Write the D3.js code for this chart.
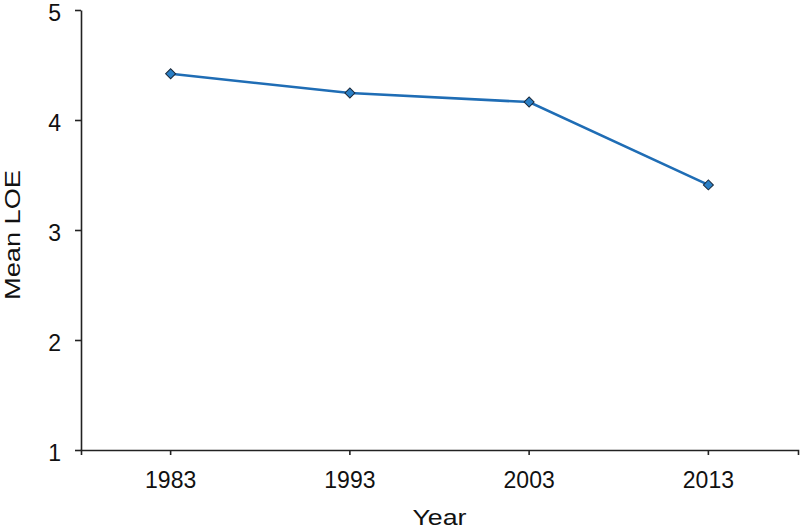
<!DOCTYPE html>
<html>
<head>
<meta charset="utf-8">
<script src="https://cdn.jsdelivr.net/npm/d3@7"></script>
<style>
  body { margin: 0; background: #fff; }
  .axis text { font-family: "Liberation Sans", Arial, sans-serif; font-size: 23px; fill: #111; }
  .axis path, .axis line { stroke: #222; stroke-width: 1.6; }
  .title { font-family: "Liberation Sans", Arial, sans-serif; font-size: 22px; fill: #111; }
</style>
</head>
<body>
<div class="chart"></div>
<script>
const years = ["1983", "1993", "2003", "2013"];
const meanLOE = [4.42, 4.245, 4.163, 3.41];
const yTicks = [1, 2, 3, 4, 5];

const W = 800, H = 530;
const margin = {top: 10, right: 2, bottom: 80, left: 81};

const svg = d3.select(".chart").append("svg")
    .attr("width", W)
    .attr("height", H);

const x = d3.scaleBand()
    .domain(years)
    .range([margin.left, W - margin.right]);

const y = d3.scaleLinear()
    .domain([1, 5])
    .range([H - margin.bottom, margin.top]);

// x axis
svg.append("g")
    .attr("class", "axis")
    .attr("transform", "translate(0," + y(1) + ")")
    .call(d3.axisBottom(x).tickSize(5).tickSizeOuter(5).tickPadding(17));

// y axis
svg.append("g")
    .attr("class", "axis")
    .attr("transform", "translate(" + margin.left + ",0)")
    .call(d3.axisLeft(y).tickValues(yTicks).tickFormat(d3.format("d"))
        .tickSize(6).tickSizeOuter(0).tickPadding(14))
    .selectAll("text")
    .attr("dy", "0.45em");

// line
const line = d3.line()
    .x((d, i) => x(years[i]) + x.bandwidth() / 2)
    .y(d => y(d));

svg.append("path")
    .datum(meanLOE)
    .attr("fill", "none")
    .attr("stroke", "#1f6db5")
    .attr("stroke-width", 2.6)
    .attr("d", line);

// diamond markers
svg.selectAll(".pt")
    .data(meanLOE)
    .enter().append("path")
    .attr("class", "pt")
    .attr("d", d3.symbol(d3.symbolSquare, 50))
    .attr("transform", (d, i) => "translate(" + (x(years[i]) + x.bandwidth() / 2) + "," + y(d) + ") rotate(45)")
    .attr("fill", "#2a7fc6")
    .attr("stroke", "#1b2a3c")
    .attr("stroke-width", 1);

// axis titles
svg.append("text")
    .attr("class", "title")
    .attr("x", (margin.left + W - margin.right) / 2)
    .attr("y", 525)
    .attr("text-anchor", "middle")
    .attr("textLength", 54)
    .attr("lengthAdjust", "spacingAndGlyphs")
    .text("Year");

svg.append("text")
    .attr("class", "title")
    .attr("transform", "translate(20,235) rotate(-90)")
    .attr("text-anchor", "middle")
    .attr("textLength", 130)
    .attr("lengthAdjust", "spacingAndGlyphs")
    .text("Mean LOE");
</script>
</body>
</html>
